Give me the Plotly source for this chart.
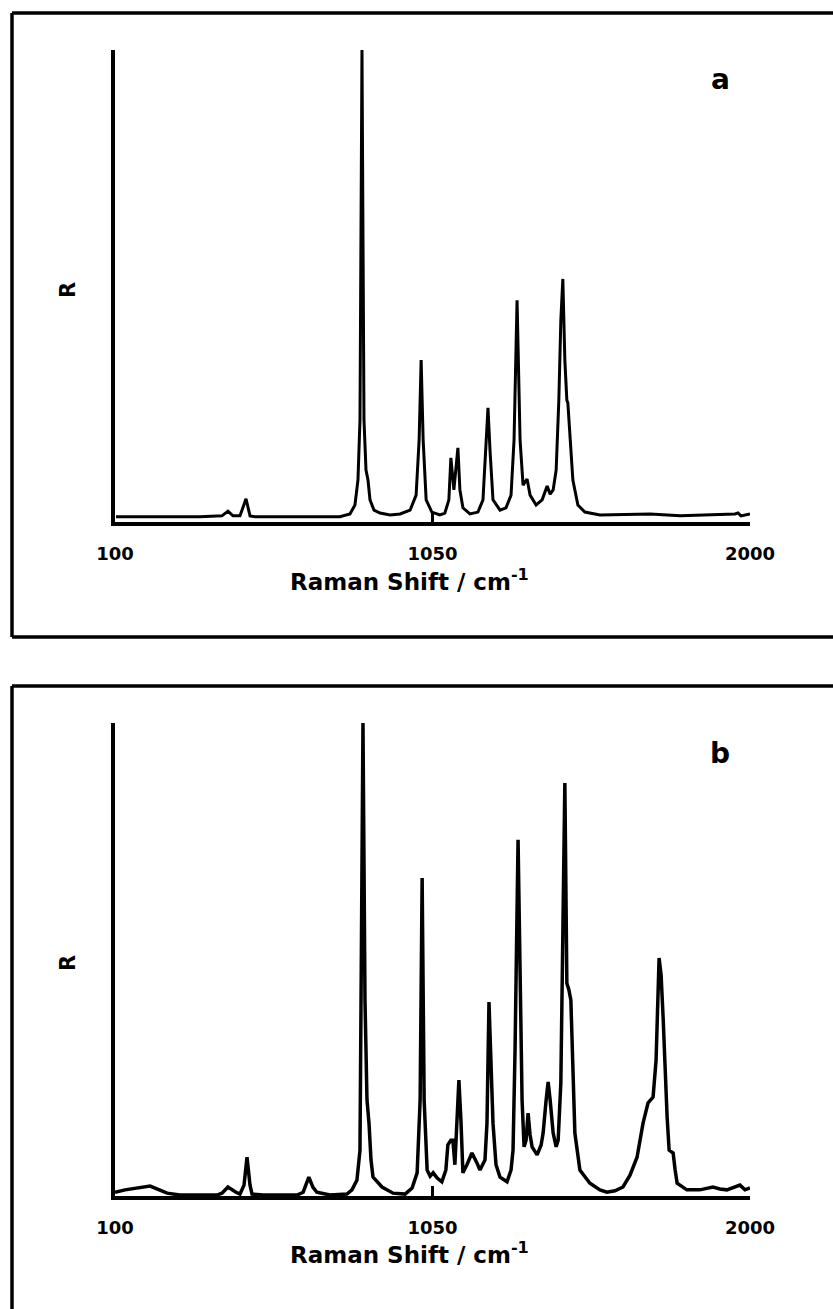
import plotly.graph_objects as go

# ---------------- data ----------------
# Panel a: Raman shift (cm-1) and relative intensity (0-100)
shift_a = [103, 354, 420, 438, 453, 474, 492, 504, 519, 773, 803, 818, 827, 833, 839, 845,
           851, 857, 863, 875, 893, 923, 953, 983, 1001, 1010, 1016, 1022, 1031, 1048, 1072,
           1087, 1099, 1105, 1114, 1120, 1126, 1132, 1141, 1162, 1186, 1201, 1210, 1216, 1222,
           1231, 1252, 1270, 1285, 1294, 1303, 1312, 1321, 1333, 1342, 1360, 1378, 1393, 1402,
           1411, 1420, 1428, 1434, 1440, 1446, 1452, 1455, 1461, 1470, 1485, 1506, 1551, 1701,
           1791, 1910, 1955, 1964, 1973, 2000]
int_a = [1.1, 1.1, 1.3, 2.3, 1.3, 1.3, 4.9, 1.3, 1.1, 1.1, 1.7, 3.6, 8.9, 21.6, 100, 21.6,
         11.0, 8.9, 4.7, 2.5, 1.9, 1.5, 1.7, 2.5, 5.7, 17.4, 34.3, 17.4, 4.7, 2.1, 1.5,
         1.9, 4.7, 13.6, 6.8, 11.0, 15.7, 6.8, 3.0, 1.7, 2.1, 4.7, 15.3, 24.2, 15.3,
         4.7, 2.5, 3.0, 5.7, 17.4, 47.0, 17.4, 7.8, 9.1, 5.7, 3.6, 4.7, 7.6, 5.9,
         6.8, 11.0, 25.8, 42.8, 51.5, 34.3, 25.8, 25.2, 19.5, 8.9, 3.6, 2.1, 1.5, 1.7,
         1.3, 1.5, 1.7, 1.9, 1.3, 1.7]

# Panel b
shift_b = [100, 130, 205, 256, 294, 405, 420, 438, 462, 474, 486, 495, 504, 510, 543, 645,
           663, 680, 692, 704, 743, 794, 809, 824, 833, 836, 842, 848, 854, 860, 866, 872,
           899, 932, 968, 989, 1004, 1013, 1019, 1025, 1034, 1043, 1052, 1064, 1078, 1090,
           1096, 1105, 1111, 1117, 1123, 1129, 1135, 1141, 1153, 1168, 1183, 1192, 1207,
           1213, 1219, 1225, 1231, 1240, 1252, 1273, 1285, 1291, 1297, 1306, 1312, 1318,
           1324, 1330, 1336, 1342, 1348, 1363, 1375, 1381, 1390, 1396, 1402, 1411, 1420,
           1426, 1434, 1440, 1446, 1452, 1458, 1464, 1470, 1476, 1491, 1521, 1551, 1572,
           1596, 1620, 1641, 1662, 1680, 1695, 1710, 1719, 1728, 1734, 1740, 1746, 1752,
           1758, 1770, 1776, 1782, 1811, 1850, 1889, 1910, 1931, 1955, 1970, 1985, 2000]
int_b = [0.8, 1.3, 2.1, 0.6, 0.2, 0.2, 0.6, 1.9, 0.8, 0.4, 2.3, 8.2, 2.3, 0.4, 0.2, 0.2,
         0.8, 4.0, 1.9, 0.8, 0.2, 0.4, 1.3, 3.4, 9.7, 41.4, 100, 41.4, 20.3, 15.4, 7.6, 4.0,
         1.9, 0.6, 0.4, 1.7, 4.9, 20.3, 67.2, 20.3, 5.5, 4.2, 4.9, 3.8, 3.0, 5.5,
         10.8, 11.8, 11.8, 6.6, 16.1, 24.5, 16.1, 4.9, 6.6, 9.1, 7.0, 5.5, 7.6,
         15.4, 41.0, 28.8, 15.4, 6.6, 4.0, 3.0, 5.5, 9.7, 30.9, 75.3, 41.4, 20.3,
         10.4, 11.8, 17.5, 12.9, 10.4, 8.7, 10.8, 13.3, 20.3, 24.1, 20.3, 13.3, 10.4,
         11.8, 23.9, 52.0, 87.3, 45.0, 43.6, 41.4, 28.8, 13.3, 5.5, 2.7, 1.3, 0.8,
         1.1, 1.9, 4.4, 8.2, 15.4, 19.7, 20.9, 28.8, 50.3, 46.7, 37.8, 26.6, 16.7,
         9.7, 9.1, 5.5, 2.7, 1.3, 1.3, 1.9, 1.5, 1.3, 1.9, 2.3, 1.3, 1.7]

tick_vals = [100, 1050, 2000]
tick_text = ["100", "1050", "2000"]
x_title = "Raman Shift / cm<sup>-1</sup>"
y_title = "R"
panel_labels = ["a", "b"]

# ---------------- figure ----------------
W, H = 833, 1309
FONT = "DejaVu Sans"


def px(x):
    return x / W


def py(y):
    return 1 - y / H


fig = go.Figure()
fig.add_trace(go.Scatter(x=shift_a, y=int_a, mode="lines", xaxis="x", yaxis="y",
                         line=dict(color="black", width=3), showlegend=False,
                         hoverinfo="skip"))
fig.add_trace(go.Scatter(x=shift_b, y=int_b, mode="lines", xaxis="x2", yaxis="y2",
                         line=dict(color="black", width=3.5), showlegend=False,
                         hoverinfo="skip"))

xdom = [px(115), px(750)]
dom_a = [py(522), py(50)]
dom_b = [py(1196), py(723)]

xcommon = dict(range=[100, 2000], showline=True, linecolor="black", linewidth=4,
               ticks="inside", ticklen=10, tickwidth=3, tickcolor="black",
               tickvals=tick_vals, ticktext=[f"<b>{t}</b>" for t in tick_text],
               tickfont=dict(family=FONT, size=18, color="black"),
               ticklabelstandoff=12, showgrid=False, zeroline=False, fixedrange=True,
               automargin=False)
ycommon = dict(range=[0, 100], showline=True, linecolor="black", linewidth=4,
               ticks="", showticklabels=False, showgrid=False, zeroline=False,
               fixedrange=True, automargin=False)

fig.update_layout(
    template="none",
    width=W, height=H, autosize=False,
    margin=dict(l=0, r=0, t=0, b=0, pad=0),
    paper_bgcolor="white", plot_bgcolor="white",
    xaxis=dict(domain=xdom, anchor="y", **xcommon),
    yaxis=dict(domain=dom_a, anchor="x", **ycommon),
    xaxis2=dict(domain=xdom, anchor="y2", **xcommon),
    yaxis2=dict(domain=dom_b, anchor="x2", **ycommon),
)

# panel frames (right side lies beyond the page edge, so only three sides show)
frame_lines = [
    # panel a: top, left, bottom
    (12, 13, 833, 13), (12, 13, 12, 637), (12, 637, 833, 637),
    # panel b: top, left (bottom lies beyond the page)
    (12, 686, 833, 686), (12, 686, 12, 1309),
]
for x0, y0, x1, y1 in frame_lines:
    fig.add_shape(type="line", xref="paper", yref="paper",
                  x0=px(x0), x1=px(x1), y0=py(y0), y1=py(y1),
                  line=dict(color="black", width=3.5), layer="below")

annots = []
for off, lab in zip([0, 673], panel_labels):
    annots.append(dict(x=px(409), y=py(580 + off), xref="paper", yref="paper",
                       text=f"<b>{x_title}</b>", showarrow=False,
                       xanchor="center", yanchor="middle",
                       font=dict(family=FONT, size=23, color="black")))
    annots.append(dict(x=px(68), y=py(290 + off), xref="paper", yref="paper",
                       text=f"<b>{y_title}</b>", showarrow=False, textangle=-90,
                       xanchor="center", yanchor="middle",
                       font=dict(family=FONT, size=21, color="black")))
    annots.append(dict(x=px(720), y=py(80 + off), xref="paper", yref="paper",
                       text=f"<b>{lab}</b>", showarrow=False,
                       xanchor="center", yanchor="middle",
                       font=dict(family=FONT, size=28, color="black")))
fig.update_layout(annotations=annots)

fig.write_html("out.html", config={"displayModeBar": False})
